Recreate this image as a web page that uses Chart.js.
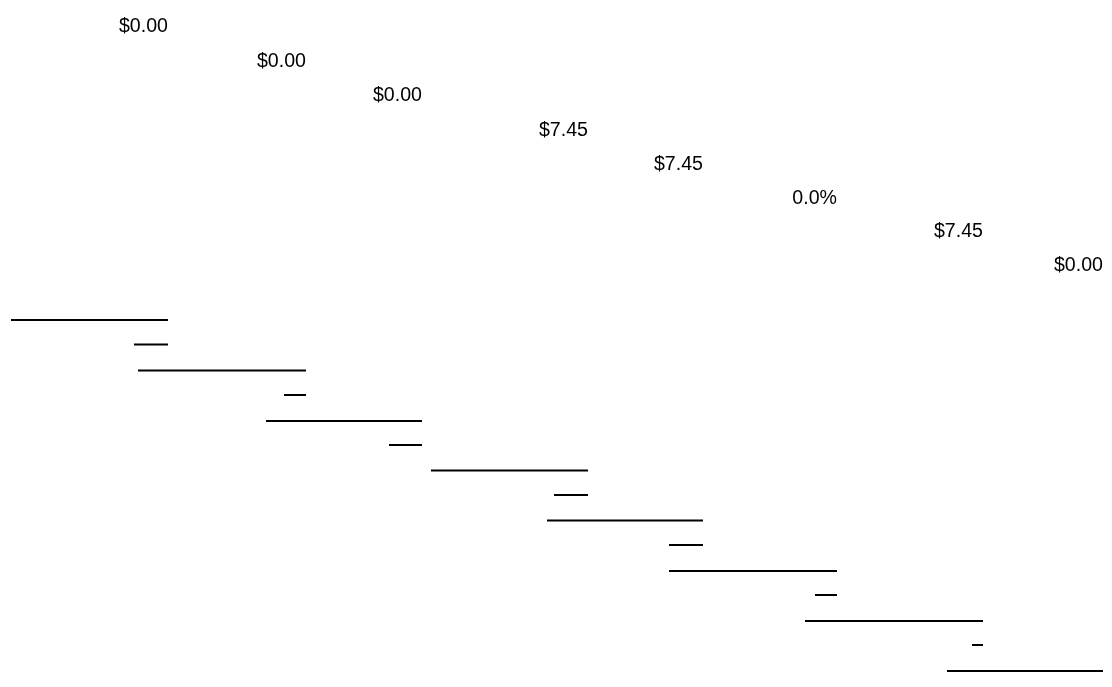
<!DOCTYPE html>
<html>
<head>
<meta charset="utf-8">
<script src="https://cdn.jsdelivr.net/npm/chart.js@4"></script>
<style>
  html, body { margin: 0; padding: 0; background: #fff; }
  #wrap { width: 1112px; height: 687px; position: relative; }
</style>
</head>
<body>
<div id="wrap"><canvas id="sheet"></canvas></div>
<script>
// value labels: text, right edge, row
const labelText = ["$0.00", "$0.00", "$0.00", "$7.45", "$7.45", "0.0%", "$7.45", "$0.00"];
const labelRight = [168, 306, 422, 588, 703, 837, 983, 1103];
const labelRow = [27, 62, 96, 131, 165, 199, 232, 266];

// rule lines: start, end, row
const ruleStart = [11, 134, 138, 284, 266, 389, 431, 554, 547, 669, 669, 815, 805, 972, 947];
const ruleEnd = [168, 168, 306, 306, 422, 422, 588, 588, 703, 703, 837, 837, 983, 983, 1103];
const ruleRow = [320, 344.5, 370.5, 395, 421, 445, 470.5, 495, 520.5, 545, 571, 595, 621, 645, 671];

const labelPlugin = {
    id: "valueLabels",
    afterDatasetsDraw(chart) {
        const ctx = chart.ctx;
        const xs = chart.scales.x, ys = chart.scales.y;
        ctx.save();
        ctx.font = "19.6px 'Liberation Sans', Arial, sans-serif";
        ctx.fillStyle = "#000";
        ctx.textAlign = "right";
        ctx.textBaseline = "middle";
        labelText.forEach(function(t, i) {
            ctx.fillText(t, xs.getPixelForValue(labelRight[i]), ys.getPixelForValue(labelRow[i]));
        });
        ctx.restore();
    }
};

document.addEventListener("DOMContentLoaded", function() {
    const ctx = document.getElementById("sheet").getContext("2d");
    new Chart(ctx, {
        type: "scatter",
        data: {
            datasets: ruleRow.map(function(r, i) {
                return {
                    data: [{x: ruleStart[i], y: r}, {x: ruleEnd[i], y: r}],
                    showLine: true,
                    borderColor: "#000",
                    borderWidth: 2,
                    pointRadius: 0
                };
            })
        },
        options: {
            responsive: true,
            maintainAspectRatio: false,
            animation: false,
            layout: { padding: 0 },
            plugins: { legend: { display: false }, tooltip: { enabled: false } },
            scales: {
                x: { type: "linear", min: 0, max: 1112, display: false },
                y: { type: "linear", min: 0, max: 687, reverse: true, display: false }
            }
        },
        plugins: [labelPlugin]
    });
});
</script>
</body>
</html>
